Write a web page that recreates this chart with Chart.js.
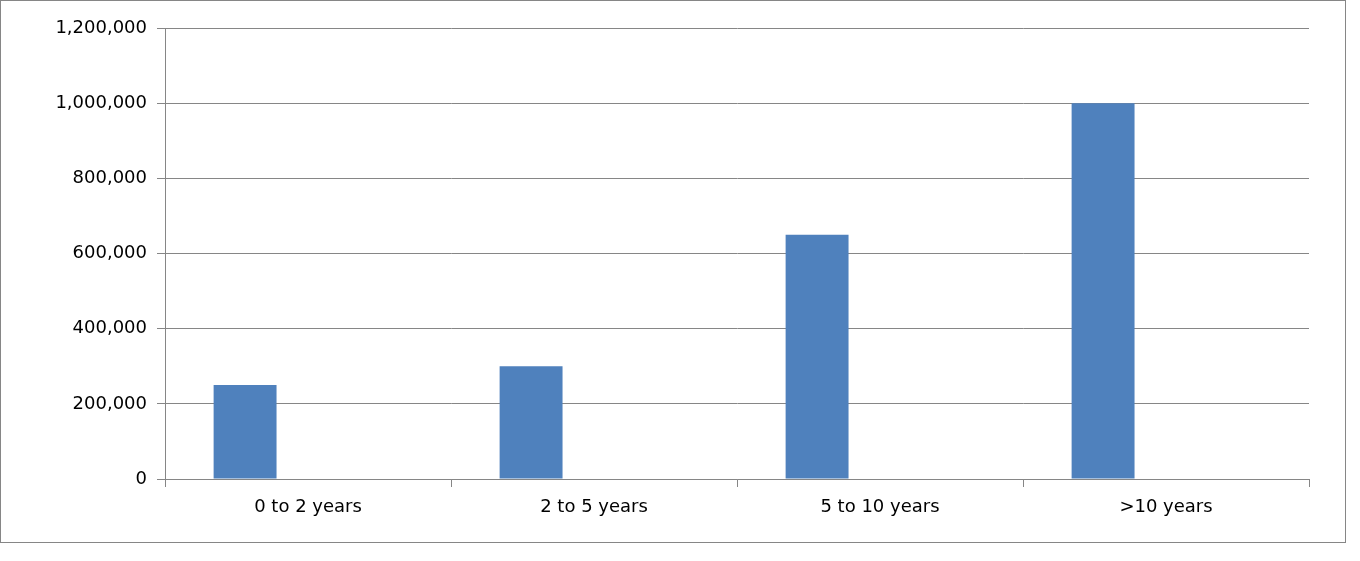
<!DOCTYPE html>
<html>
<head>
<script src="https://cdn.jsdelivr.net/npm/chart.js@4/dist/chart.umd.min.js"></script>
<style>
  body { margin: 0; background: #fff; }
  #box { position: absolute; left: 0; top: 0; width: 1344px; height: 541px; border: 1px solid #868686; }
</style>
</head>
<body>
<div id="box"><canvas id="chart" width="1344" height="541"></canvas></div>
<script>
const categories = ["0 to 2 years", "2 to 5 years", "5 to 10 years", ">10 years"];
const seriesA = [250000, 300000, 650000, 1000000];
const seriesB = [0, 0, 0, 0];
const seriesC = [0, 0, 0, 0];
const yTicks = [0, 200000, 400000, 600000, 800000, 1000000, 1200000];

const ctx = document.getElementById("chart").getContext("2d");
new Chart(ctx, {
  type: "bar",
  data: {
    labels: categories,
    datasets: [
      { data: seriesA, backgroundColor: "#4f81bd" },
      { data: seriesB, backgroundColor: "#c0504d" },
      { data: seriesC, backgroundColor: "#9bbb59" }
    ]
  },
  options: {
    responsive: false,
    animation: false,
    layout: { padding: { top: 27, right: 36, left: 0, bottom: 0 } },
    datasets: { bar: { categoryPercentage: 0.66, barPercentage: 1 } },
    plugins: { legend: { display: false }, tooltip: { enabled: false } },
    scales: {
      x: {
        afterFit: s => { s.height = 63; },
        grid: { offset: true, drawOnChartArea: false, color: "#868686", tickLength: 8 },
        border: { color: "#868686" },
        ticks: { color: "#000", font: { family: "DejaVu Sans", size: 18 }, padding: 10 }
      },
      y: {
        min: 0, max: 1200000,
        afterFit: s => { s.width = 164; },
        afterBuildTicks: s => { s.ticks = yTicks.map(v => ({ value: v })); },
        grid: { color: "#868686", tickLength: 8 },
        border: { color: "#868686" },
        ticks: { color: "#000", font: { family: "DejaVu Sans", size: 18 }, padding: 10 }
      }
    }
  }
});
</script>
</body>
</html>
